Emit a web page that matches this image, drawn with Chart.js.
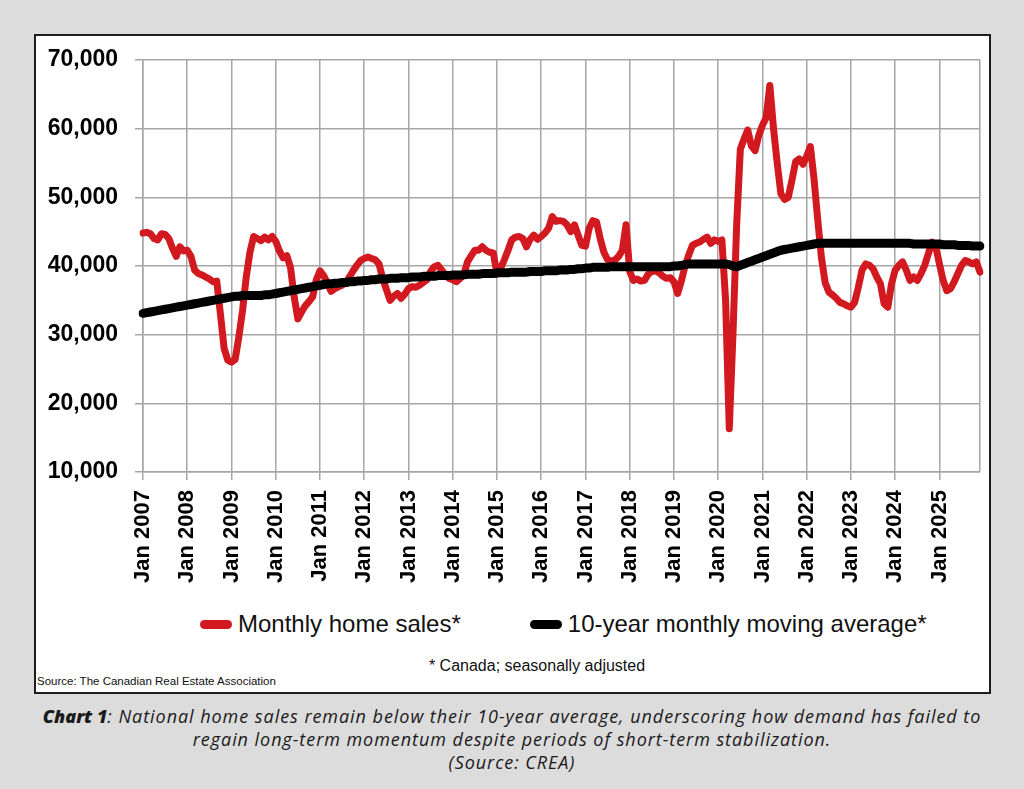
<!DOCTYPE html>
<html>
<head>
<meta charset="utf-8">
<title>National home sales</title>
<script src="https://cdn.jsdelivr.net/npm/chart.js@4.4.1/dist/chart.umd.min.js"></script>
<style>
  body {
    margin: 0;
    width: 1024px;
    height: 789px;
    position: relative;
    overflow: hidden;
    background: #dcdcdc;
    font-family: 'Liberation Sans', Arial, sans-serif;
  }
  #frame {
    position: absolute;
    left: 34px;
    top: 34px;
    width: 957px;
    height: 660px;
    box-sizing: border-box;
    border: 2px solid #1c1c1c;
    background: #fff;
  }
  #chart-wrap {
    position: absolute;
    left: 1px;
    top: 1px;
    width: 951px;
    height: 555px;
  }
  #legend {
    position: absolute;
    left: 164px;
    top: 574px;
    height: 28px;
    display: flex;
    align-items: center;
    gap: 69px;
    font-size: 24px;
    color: #111;
    white-space: nowrap;
  }
  #legend .item { display: flex; align-items: center; gap: 6px; }
  #legend .swatch { width: 32px; height: 9px; border-radius: 5px; }
  .footnote {
    position: absolute;
    left: 301px;
    top: 621px;
    width: 400px;
    text-align: center;
    font-size: 16px;
    line-height: 18px;
    color: #111;
  }
  .source {
    position: absolute;
    left: 1px;
    top: 638px;
    font-size: 11.5px;
    line-height: 14px;
    color: #111;
    white-space: nowrap;
  }
  .caption {
    position: absolute;
    left: 0;
    top: 705px;
    width: 1024px;
    text-align: center;
    font-family: 'Open Sans', 'Noto Sans', sans-serif;
    font-style: italic;
    font-size: 18px;
    letter-spacing: 0.95px;
    line-height: 23px;
    color: #1a1a1a;
    white-space: nowrap;
  }
  .caption b { font-weight: 800; letter-spacing: 0; }
</style>
</head>
<body>
<div id="frame">
  <div id="chart-wrap"><canvas id="salesChart"></canvas></div>
  <div id="legend"></div>
  <div class="footnote">* Canada; seasonally adjusted</div>
  <div class="source">Source: The Canadian Real Estate Association</div>
</div>
<div class="caption">
  <b>Chart 1</b>: National home sales remain below their 10-year average, underscoring how demand has failed to<br>
  regain long-term momentum despite periods of short-term stabilization.<br>
  (Source: CREA)
</div>

<script>
// months Jan 2007 .. Dec 2025
const years = [2007, 2008, 2009, 2010, 2011, 2012, 2013, 2014, 2015, 2016,
               2017, 2018, 2019, 2020, 2021, 2022, 2023, 2024, 2025];
const monthNames = ['Jan', 'Feb', 'Mar', 'Apr', 'May', 'Jun',
                    'Jul', 'Aug', 'Sep', 'Oct', 'Nov', 'Dec'];

// Monthly home sales* (units), one row per year
const monthlySales = [
  44800, 44900, 44700, 44000, 43800, 44700, 44600, 44000, 42600, 41400, 42800, 42200, // 2007
  42300, 41400, 39400, 38900, 38700, 38400, 38100, 37700, 37800, 33000, 28000, 26300, // 2008
  26000, 26400, 29700, 33500, 38400, 42000, 44300, 44000, 43700, 44200, 43800, 44300, // 2009
  43600, 42200, 41200, 41500, 39800, 35500, 32300, 33300, 34200, 34800, 35500, 38000, // 2010
  39300, 38600, 37500, 36300, 36700, 37000, 37200, 37600, 38400, 39300, 40100, 40800, // 2011
  41100, 41300, 41100, 40900, 40300, 38200, 36600, 35000, 35600, 36000, 35300, 35900, // 2012
  36700, 37000, 36900, 37200, 37600, 38000, 39200, 39900, 40100, 39400, 38700, 38200, // 2013
  38000, 37700, 38200, 38800, 40600, 41500, 42300, 42300, 42800, 42300, 42000, 41900, // 2014
  38800, 39700, 40900, 42300, 43800, 44200, 44300, 44000, 42800, 43900, 44500, 43900, // 2015
  44300, 44800, 45500, 47200, 46500, 46600, 46500, 46000, 45000, 46000, 44500, 43000, // 2016
  42900, 45500, 46600, 46400, 44000, 42000, 40900, 40700, 40900, 41400, 42300, 46000, // 2017
  39200, 37900, 38100, 37800, 37900, 38800, 39200, 39300, 39000, 38500, 38200, 38300, // 2018
  37700, 36000, 37800, 40000, 41600, 43000, 43300, 43500, 43900, 44200, 43300, 43800, // 2019
  43600, 43800, 35000, 16300, 30000, 46000, 57000, 58500, 59800, 57500, 56800, 59000, // 2020
  60500, 61600, 66300, 60000, 55000, 50500, 49700, 50000, 52500, 55200, 55600, 54800, // 2021
  56000, 57400, 52600, 46700, 41200, 37600, 36200, 35800, 35300, 34700, 34500, 34200, // 2022
  34000, 34700, 36900, 39400, 40300, 40100, 39600, 38400, 37400, 34500, 34000, 37400, // 2023
  39400, 40100, 40600, 39400, 37900, 38400, 37900, 38900, 40100, 41800, 43500, 42800, // 2024
  40300, 37900, 36400, 36700, 37700, 38900, 40100, 40800, 40600, 40300, 40600, 39100  // 2025
];

// 10-year monthly moving average*
const movingAverage = [
  33100, 33200, 33300, 33400, 33500, 33600, 33700, 33800, 33900, 34000, 34100, 34200, // 2007
  34300, 34400, 34500, 34600, 34700, 34800, 34900, 35000, 35100, 35200, 35300, 35400, // 2008
  35500, 35600, 35600, 35700, 35700, 35700, 35700, 35700, 35700, 35800, 35800, 35900, // 2009
  36000, 36100, 36200, 36300, 36400, 36500, 36600, 36700, 36800, 36900, 37000, 37100, // 2010
  37200, 37300, 37400, 37400, 37500, 37500, 37600, 37600, 37700, 37700, 37800, 37800, // 2011
  37900, 37900, 38000, 38000, 38100, 38100, 38100, 38200, 38200, 38200, 38300, 38300, // 2012
  38300, 38400, 38400, 38400, 38500, 38500, 38500, 38500, 38600, 38600, 38600, 38600, // 2013
  38700, 38700, 38700, 38700, 38800, 38800, 38800, 38800, 38900, 38900, 38900, 38900, // 2014
  39000, 39000, 39000, 39000, 39100, 39100, 39100, 39100, 39100, 39200, 39200, 39200, // 2015
  39200, 39300, 39300, 39300, 39300, 39400, 39400, 39400, 39500, 39500, 39600, 39600, // 2016
  39700, 39700, 39800, 39800, 39800, 39800, 39800, 39900, 39900, 39900, 39900, 39900, // 2017
  39900, 39900, 39900, 39900, 39900, 39900, 39900, 39900, 39900, 39900, 39900, 39900, // 2018
  40000, 40000, 40100, 40200, 40300, 40300, 40300, 40300, 40300, 40300, 40300, 40300, // 2019
  40300, 40300, 40300, 40200, 40000, 39900, 40100, 40300, 40500, 40700, 40900, 41100, // 2020
  41300, 41500, 41700, 41900, 42100, 42300, 42400, 42500, 42600, 42700, 42800, 42900, // 2021
  43000, 43100, 43200, 43300, 43300, 43300, 43300, 43300, 43300, 43300, 43300, 43300, // 2022
  43300, 43300, 43300, 43300, 43300, 43300, 43300, 43300, 43300, 43300, 43300, 43300, // 2023
  43300, 43300, 43300, 43300, 43300, 43200, 43200, 43200, 43200, 43200, 43200, 43200, // 2024
  43200, 43100, 43100, 43100, 43100, 43000, 43000, 43000, 43000, 42900, 42900, 42900  // 2025
];

const yMin = 10000;
const yMax = 70000;
const yStep = 10000;

const monthLabels = [];
years.forEach(y => monthNames.forEach(m => monthLabels.push(m + ' ' + y)));

const gridColor = '#a6a6a6';
const lastIndex = monthLabels.length - 1;

const ctx = document.getElementById('salesChart').getContext('2d');
const chart = new Chart(ctx, {
  type: 'line',
  data: {
    labels: monthLabels,
    datasets: [{
      label: 'Monthly home sales*',
      data: monthlySales,
      borderColor: '#d2191f',
      backgroundColor: '#d2191f',
      borderWidth: 7,
      borderJoinStyle: 'round',
      borderCapStyle: 'round',
      pointRadius: 0,
      tension: 0,
      order: 1
    }, {
      label: '10-year monthly moving average*',
      data: movingAverage,
      borderColor: '#000000',
      backgroundColor: '#000000',
      borderWidth: 9,
      borderJoinStyle: 'round',
      borderCapStyle: 'round',
      pointRadius: 0,
      tension: 0,
      order: 0
    }]
  },
  options: {
    responsive: true,
    maintainAspectRatio: false,
    animation: false,
    layout: {
      padding: {top: 23, right: 8, left: 0, bottom: 0}
    },
    scales: {
      x: {
        type: 'category',
        afterFit: (scale) => {
          scale.height = 120;
          scale.paddingLeft = 0;
          scale.paddingRight = 0;
        },
        grid: {
          color: (c) => (c.index % 12 === 0 || c.index === lastIndex) ? gridColor : 'transparent',
          tickColor: (c) => (c.index % 12 === 0) ? gridColor : 'transparent',
          lineWidth: 1.5,
          tickLength: 8
        },
        border: {color: gridColor, width: 1.5},
        ticks: {
          autoSkip: false,
          minRotation: 90,
          maxRotation: 90,
          padding: 10,
          color: '#000',
          font: {family: 'Liberation Sans', size: 22, weight: 'bold'},
          callback: function (value, index) {
            return index % 12 === 0 ? this.getLabelForValue(value) : '';
          }
        }
      },
      y: {
        min: yMin,
        max: yMax,
        afterFit: (scale) => {
          scale.width = 106;
          scale.paddingTop = 0;
          scale.paddingBottom = 0;
        },
        grid: {
          color: gridColor,
          lineWidth: 1.5,
          tickLength: 8
        },
        border: {color: gridColor, width: 1.5},
        ticks: {
          stepSize: yStep,
          padding: 17,
          color: '#000',
          font: {family: 'Liberation Sans', size: 23, weight: 'bold'},
          callback: (value) => value.toLocaleString('en-US')
        }
      }
    },
    plugins: {
      tooltip: {enabled: false},
      legend: {display: false}
    }
  }
});

// legend built from the chart's own dataset list
const legendEl = document.getElementById('legend');
Chart.defaults.plugins.legend.labels.generateLabels(chart)
  .sort((a, b) => a.datasetIndex - b.datasetIndex)
  .forEach(item => {
    const row = document.createElement('div');
    row.className = 'item';
    const sw = document.createElement('span');
    sw.className = 'swatch';
    sw.style.background = item.strokeStyle;
    const txt = document.createElement('span');
    txt.textContent = item.text;
    row.appendChild(sw);
    row.appendChild(txt);
    legendEl.appendChild(row);
  });
</script>
</body>
</html>
